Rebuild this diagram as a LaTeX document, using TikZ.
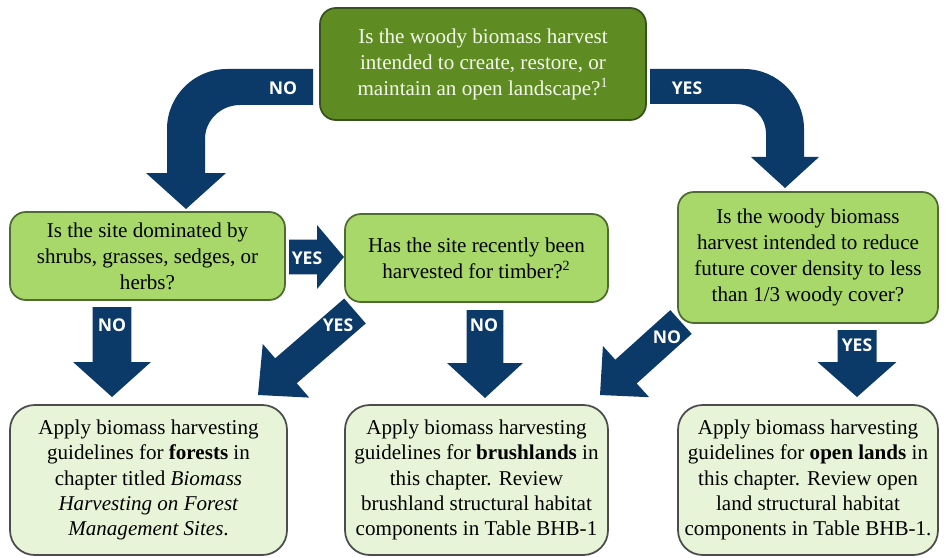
\documentclass[tikz,border=0pt]{standalone}
\usepackage{fontspec}
\setmainfont{Liberation Serif}
\newfontfamily\labelfont{Open Sans}
\usetikzlibrary{calc}
\definecolor{navy}{RGB}{12,58,104}
\definecolor{olive}{RGB}{94,140,34}
\definecolor{olivedark}{RGB}{55,82,28}
\definecolor{lime}{RGB}{168,216,106}
\definecolor{limedark}{RGB}{78,108,48}
\definecolor{pale}{RGB}{231,244,215}

% straight block arrow: tail, tip, shaft width, head width, head length (px)
\newcommand{\blockarrow}[5]{%
  \coordinate (hb) at ($(#2)!#5*0.02cm!(#1)$);
  \fill[navy] ($(#1)!#3*0.01cm!90:(#2)$) -- ($(hb)!#3*0.01cm!90:(#2)$)
    -- ($(hb)!#4*0.01cm!90:(#2)$) -- (#2) -- ($(hb)!#4*0.01cm!-90:(#2)$)
    -- ($(hb)!#3*0.01cm!-90:(#2)$) -- ($(#1)!#3*0.01cm!-90:(#2)$) -- cycle;
}

\begin{document}
\begin{tikzpicture}[x=0.02cm, y=-0.02cm,
  box/.style={rounded corners=9pt, line width=1pt, align=center,
    font=\fontsize{12}{14.8}\selectfont, inner sep=2pt},
  topbox/.style={box, draw=olivedark, fill=olive, text={rgb,255:red,244;green,248;blue,236}},
  askbox/.style={box, draw=limedark, fill=lime},
  endbox/.style={box, draw=black!70, fill=pale, rounded corners=14pt,
    font=\fontsize{12}{14.4}\selectfont},
  lbl/.style={text=white, font=\labelfont\bfseries\fontsize{10}{12}\selectfont}]
\useasboundingbox (0,0) rectangle (945,557);

% questions
\node[topbox, minimum width=6.52cm, minimum height=2.24cm] (openq) at (483,64)
  {Is the woody biomass harvest\\ intended to create, restore, or\\ maintain an open landscape?\textsuperscript{1}};
\node[askbox, minimum width=5.5cm, minimum height=1.76cm] (shrubq) at (147.5,256)
  {Is the site dominated by\\ shrubs, grasses, sedges, or\\ herbs?};
\node[askbox, minimum width=5.26cm, minimum height=1.76cm] (timberq) at (476.5,258)
  {Has the site recently been\\ harvested for timber?\textsuperscript{2}};
\node[askbox, minimum width=5.2cm, minimum height=2.62cm] (coverq) at (808,257.5)
  {Is the woody biomass\\ harvest intended to reduce\\ future cover density to less\\ than 1/3 woody cover?};

% outcomes
\node[endbox, minimum width=5.54cm, minimum height=3cm] (forests) at (148.5,480)
  {Apply biomass harvesting\\ guidelines for \textbf{forests} in\\ chapter titled \textit{Biomass}\\
   \textit{Harvesting on Forest}\\ \textit{Management Sites}.};
\node[endbox, minimum width=5.26cm, minimum height=3cm] (brushlands) at (476.5,480)
  {Apply biomass harvesting\\ guidelines for \textbf{brushlands} in\\ this chapter. Review\\
   brushland structural habitat\\ components in Table BHB-1};
\node[endbox, minimum width=5.2cm, minimum height=3cm] (openlands) at (808,480)
  {Apply biomass harvesting\\ guidelines for \textbf{open lands} in\\ this chapter. Review open\\
   land structural habitat\\ components in Table BHB-1.};

% curved arrows from the first question
\fill[navy] (313,69) -- (227,69) .. controls (194,69) and (167,96) .. (167,129)
  -- (167,173) -- (146,173) -- (186,209) -- (226,173) -- (205,173) -- (205,139)
  .. controls (205,120) and (221,105) .. (240,105) -- (313,105) -- cycle;
\fill[navy] (650,69) -- (744,69) .. controls (777,69) and (804,96) .. (804,129)
  -- (804,157) -- (819,157) -- (785,188) -- (751,157) -- (766,157) -- (766,134)
  .. controls (766,117) and (753,104) .. (736,104) -- (650,104) -- cycle;
\node[lbl] (no1) at (283,88) {NO};
\node[lbl] (yes1) at (687,88) {YES};

% straight arrows
\coordinate (t1) at (289,257);  \coordinate (h1) at (344,257);
\coordinate (t2) at (112,307);  \coordinate (h2) at (112,397);
\coordinate (t3) at (355,311);  \coordinate (h3) at (258,395);
\coordinate (t4) at (485,310);  \coordinate (h4) at (485,398);
\coordinate (t5) at (681,322);  \coordinate (h5) at (600,395);
\coordinate (t6) at (857,330);  \coordinate (h6) at (857,397);
\blockarrow{t1}{h1}{35}{64}{27}
\blockarrow{t2}{h2}{39}{78}{35}
\blockarrow{t3}{h3}{33}{71}{37}
\blockarrow{t4}{h4}{37}{76}{35}
\blockarrow{t5}{h5}{32}{69}{35}
\blockarrow{t6}{h6}{39}{79}{35}
\node[lbl] (yes2) at (307,258) {YES};
\node[lbl] (no2) at (112,325) {NO};
\node[lbl] (yes3) at (338,325) {YES};
\node[lbl] (no3) at (484,325) {NO};
\node[lbl] (no4) at (667,337) {NO};
\node[lbl] (yes4) at (857,345) {YES};
\end{tikzpicture}
\end{document}
